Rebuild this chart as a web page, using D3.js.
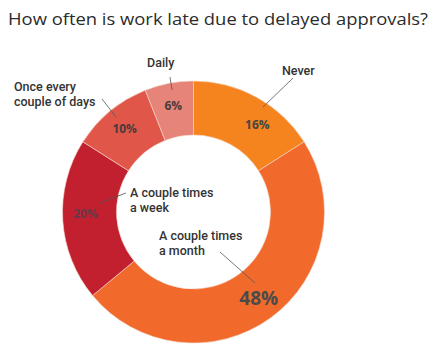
<!DOCTYPE html>
<html>
<head>
<meta charset="utf-8">
<script src="https://cdn.jsdelivr.net/npm/d3@7"></script>
<style>
  html, body { margin: 0; padding: 0; background: #fff; }
  svg { display: block; }
  text { font-family: "Open Sans", "Lato", sans-serif; }
  text.name { font-family: Roboto, "Liberation Sans", sans-serif; }
</style>
</head>
<body>
<svg id="chart" width="435" height="358"></svg>
<script>
// ---- data ----
const title = "How often is work late due to delayed approvals?";
const categories = ["Never", "A couple times a month", "A couple times a week", "Once every couple of days", "Daily"];
const values = [16, 48, 20, 10, 6];
const valueLabels = ["16%", "48%", "20%", "10%", "6%"];
const colors = ["#F5841F", "#F26A2B", "#C21F2F", "#E0574A", "#E6847A"];

// ---- layout ----
const W = 435, H = 358;
const cx = 193.5, cy = 212, rOuter = 131, rInner = 77;
const svg = d3.select("#chart");

svg.append("text")
  .attr("x", 8).attr("y", 25)
  .attr("fill", "#2b2b2b")
  .attr("font-size", 17)
  .attr("textLength", 420)
  .attr("lengthAdjust", "spacingAndGlyphs")
  .text(title);

const pie = d3.pie().sort(null).value(d => d.value);
const arcs = pie(categories.map((c, i) => ({ cat: c, value: values[i], label: valueLabels[i], color: colors[i] })));
const arc = d3.arc().innerRadius(rInner).outerRadius(rOuter);

const g = svg.append("g").attr("transform", `translate(${cx},${cy})`);
g.selectAll("path.slice").data(arcs).join("path")
  .attr("class", "slice")
  .attr("d", arc)
  .attr("fill", d => d.data.color)
  .attr("stroke", "#f4d9cc")
  .attr("stroke-width", 0.6);

// value label placement: radius and small angle nudges (radians)
const labelR = 108;
const angleNudge = { "Never": 0.13, "A couple times a month": -0.02, "A couple times a week": 0.05, "Once every couple of days": 0, "Daily": 0 };
const valueStyle = {
  "Never": { size: 12, fill: "#444" },
  "A couple times a month": { size: 19, fill: "#4a4a4a" },
  "A couple times a week": { size: 12, fill: "#6a3848" },
  "Once every couple of days": { size: 12, fill: "#4a3a3a" },
  "Daily": { size: 12, fill: "#4a3a3a" }
};
g.selectAll("text.val").data(arcs).join("text")
  .attr("class", "val")
  .attr("x", d => { const a = (d.startAngle + d.endAngle) / 2 + angleNudge[d.data.cat]; return labelR * Math.sin(a); })
  .attr("y", d => { const a = (d.startAngle + d.endAngle) / 2 + angleNudge[d.data.cat]; return -labelR * Math.cos(a); })
  .attr("text-anchor", "middle")
  .attr("dominant-baseline", "central")
  .attr("font-weight", 700)
  .attr("font-size", d => valueStyle[d.data.cat].size)
  .attr("fill", d => valueStyle[d.data.cat].fill)
  .text(d => d.data.label);

// category name labels (absolute page coords) and leader lines
const nameLayout = {
  "Never": { x: 282, y: 75, lines: ["Never"], leader: [[293, 78], [263, 107]] },
  "Daily": { x: 147, y: 67, lines: ["Daily"], leader: [[170, 77], [172, 90]] },
  "Once every couple of days": { x: 14, y: 91, lines: ["Once every", "couple of days"], leader: [[102, 99], [116, 117]] },
  "A couple times a week": { x: 130, y: 197, lines: ["A couple times", "a week"], leader: [[126, 193], [100, 203]] },
  "A couple times a month": { x: 159, y: 240, lines: ["A couple times", "a month"], leader: [[220, 252], [255, 283]] }
};
const lineH = 14.5;
categories.forEach(c => {
  const L = nameLayout[c];
  L.lines.forEach((ln, i) => {
    svg.append("text")
      .attr("class", "name")
      .attr("x", L.x).attr("y", L.y + i * lineH)
      .attr("font-size", 12.5)
      .attr("font-weight", 500)
      .attr("fill", "#333")
      .text(ln);
  });
  svg.append("path")
    .attr("d", d3.line()(L.leader))
    .attr("stroke", "#555")
    .attr("stroke-width", 0.8)
    .attr("fill", "none");
});
</script>
</body>
</html>
